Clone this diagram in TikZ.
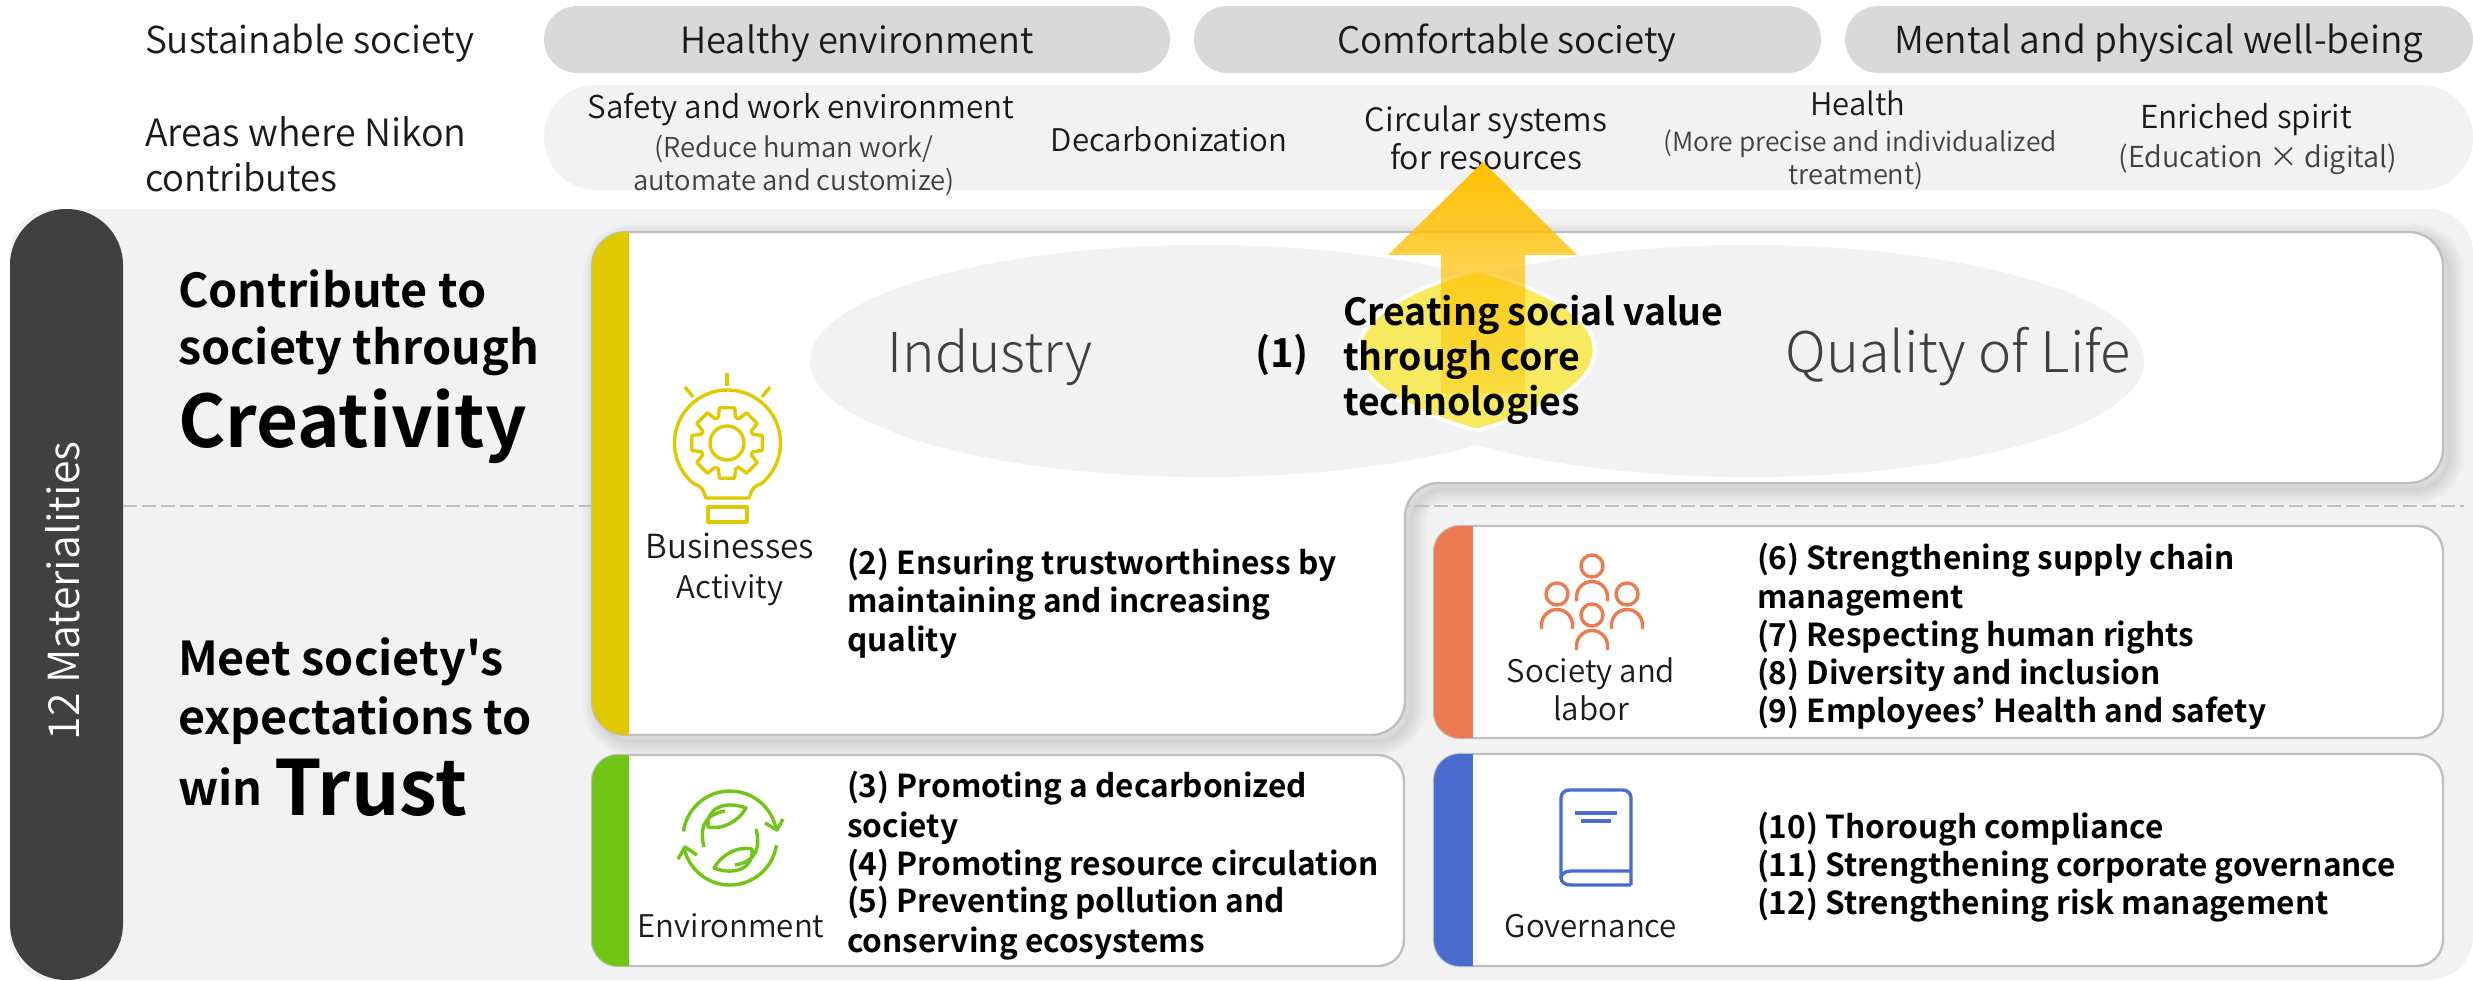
\documentclass[tikz,border=0pt]{standalone}
\usepackage{fontspec}
\setmainfont{Noto Sans CJK JP DemiLight}[BoldFont=Noto Sans CJK JP Bold,Ligatures=TeXOff]
\newfontfamily\lightf{Noto Sans CJK JP Light}
\usetikzlibrary{fadings}
\definecolor{pilldark}{HTML}{D9D9D9}
\definecolor{pilllight}{HTML}{F2F2F2}
\definecolor{darkpill}{HTML}{404040}
\definecolor{ink}{HTML}{1A1A1A}
\definecolor{subink}{HTML}{404040}
\definecolor{cardline}{HTML}{BFBFBF}
\definecolor{barY}{HTML}{E1C900}
\definecolor{barG}{HTML}{71C515}
\definecolor{barO}{HTML}{EC7B51}
\definecolor{barB}{HTML}{4A6BD0}
\newcommand\fs[1]{\fontsize{#1}{#1}\selectfont}
\tikzfading[name=arrowfade, top color=transparent!0, bottom color=transparent!65]
\newcommand\mainCard{(592,400) -- (592,232) -- (2443,232) -- (2443,483) -- (1405,483) -- (1405,735) -- (592,735) -- cycle}
\newcommand\card[6]{%
  \draw[draw=cardline,fill=white,line width=1.2pt,rounded corners=13pt] (#1,#2) rectangle (#3,#4);
  \begin{scope}
    \clip[rounded corners=13pt] (#1,#2) rectangle (#3,#4);
    \fill[#6] (#1-2,#2-2) rectangle (#5,#4+2);
  \end{scope}}
\newcommand\lensPath{(1477,272) arc[start angle=-45,end angle=45,x radius=395,y radius=110.5] arc[start angle=135,end angle=225,x radius=395,y radius=110.5] -- cycle}
\tikzset{
  txt/.style={inner sep=0pt,outer sep=0pt,text=ink,font=\fs{18.3}},
  lft/.style={txt,anchor=base west},
  mid/.style={txt,anchor=base},
  item/.style={lft,text=black,font=\bfseries\fs{15.8}},
  sub/.style={mid,text=subink,font=\fs{13.7}},
  area/.style={mid,font=\fs{15.7}},
  head/.style={lft,text=black,font=\bfseries\fs{23.35}},
  unit/.style={mid,font=\fs{15.6}},
  icon/.style={line width=1.7pt,line cap=butt,line join=round},
}
\begin{document}
\begin{tikzpicture}[x=0.5pt,y=-0.5pt]
\useasboundingbox (0,0) rectangle (2473,980);
% background
\fill[pilllight,rounded corners=22pt] (10,209) rectangle (2473,980);
\fill[darkpill,rounded corners=28pt] (10,209) rectangle (123,980);
% header pills
\fill[pilldark,rounded corners=16.7pt] (544,6) rectangle (1170,73);
\fill[pilldark,rounded corners=16.7pt] (1194,6) rectangle (1821,73);
\fill[pilldark,rounded corners=16.7pt] (1845,6) rectangle (2473,73);
\fill[pilllight,rounded corners=26pt] (544,85) rectangle (2473,190);
\node[lft,font=\fs{18.5}] (t1) at (145,53) {Sustainable society};
\node[lft,font=\fs{18.8}] (t2) at (145,146) {Areas where Nikon};
\node[lft,font=\fs{18.2}] (t3) at (145,191) {contributes};
\node[mid,font=\fs{18.1}] (p1) at (857,53) {Healthy environment};
\node[mid,font=\fs{18.3}] (p2) at (1507,53) {Comfortable society};
\node[mid,font=\fs{18.6}] (p3) at (2159,53) {Mental and physical well-being};
\node[area] (a1) at (801,118) {Safety and work environment};
\node[sub] (a1b) at (794,157) {(Reduce human work/};
\node[sub] (a1c) at (794,190) {automate and customize)};
\node[area,font=\fs{15.6}] (a2) at (1169,151) {Decarbonization};
\node[area,font=\fs{16.1}] (a3) at (1486,131) {Circular systems};
\node[area,font=\fs{16.1}] (a3b) at (1486,169) {for resources};
\node[area,font=\fs{15.5}] (a4) at (1858,115) {Health};
\node[sub,font=\fs{13.2}] (a4b) at (1860,151) {(More precise and individualized};
\node[sub,font=\fs{13.6}] (a4c) at (1856,184) {treatment)};
\node[area,font=\fs{15.8}] (a5) at (2246,128) {Enriched spirit};
\node[sub,font=\fs{14.4}] (a5b) at (2258,167) {(Education × digital)};
% shadow of the main card
\foreach \w in {30,26,...,2}{
  \draw[black,opacity=0.015,line width=\w*0.5pt,line join=round,rounded corners=17pt,shift={(3pt,-3pt)}] \mainCard;
}
% dashed separator
\draw[cardline,line width=1pt,dash pattern=on 7pt off 2.5pt] (123,506) -- (2464,506);
% main card
\draw[draw=cardline,fill=white,line width=1.2pt,rounded corners=17pt] \mainCard;
\begin{scope}
  \clip[rounded corners=17pt] \mainCard;
  \fill[barY] (590,230) rectangle (629,737);
\end{scope}
% other cards
\card{592}{755}{1404}{966}{629}{barG}
\card{1434}{526}{2443}{738}{1473}{barO}
\card{1434}{754}{2443}{966}{1473}{barB}
% ellipses
\fill[pilllight] (1205,361) circle [x radius=395,y radius=116];
\fill[pilllight] (1749,361) circle [x radius=395,y radius=116];
% lens
\filldraw[draw=white,line width=4pt,fill=white] \lensPath;
\fill[fill={rgb,255:red,248;green,234;blue,96}] \lensPath;
% arrow
\fill[fill={rgb,255:red,255;green,192;blue,0},path fading=arrowfade] (1483,162) -- (1577,255) -- (1525,255) -- (1525,393) -- (1441,393) -- (1441,255) -- (1388,255) -- cycle;
% materialities
\node[txt,text=white,rotate=90,font=\fs{21.4}] (m) at (63,591) {12 Materialities};
% headings
\node[head] (h1) at (178,307) {Contribute to};
\node[head] (h2) at (178,364) {society through};
\node[lft,text=black,font=\bfseries\fs{36.2}] (h3) at (178,447) {Creativity};
\node[head] (h4) at (178,675) {Meet society's};
\node[head] (h5) at (178,734) {expectations to};
\node[lft,text=black,font=\bfseries\fs{23.35}] (h6) at (178,805) {win};
\node[lft,text=black,font=\bfseries\fs{38.1}] (h7) at (274,815) {Trust};
% labels in ellipses
\node[mid,font=\lightf\fs{27.5},text=subink] (ind) at (990,372) {Industry};
\node[mid,font=\lightf\fs{28},text=subink] (qol) at (1958,372) {Quality of Life};
\node[mid,text=black,font=\bfseries\fs{20}] (n1) at (1282,367) {(1)};
\node[lft,text=black,font=\bfseries\fs{18.7}] (c1) at (1343,325) {Creating social value};
\node[lft,text=black,font=\bfseries\fs{18.7}] (c2) at (1343,370) {through core};
\node[lft,text=black,font=\bfseries\fs{18.7}] (c3) at (1343,415) {technologies};
% items
\node[item] (i2a) at (847,574) {(2) Ensuring trustworthiness by};
\node[item] (i2b) at (847,612) {maintaining and increasing};
\node[item] (i2c) at (847,651) {quality};
\node[item] (i3a) at (847,797) {(3) Promoting a decarbonized};
\node[item] (i3b) at (847,837) {society};
\node[item] (i4) at (847,875) {(4) Promoting resource circulation};
\node[item] (i5a) at (847,912) {(5) Preventing pollution and};
\node[item] (i5b) at (847,952) {conserving ecosystems};
\node[item] (i6a) at (1757,569) {(6) Strengthening supply chain};
\node[item] (i6b) at (1757,608) {management};
\node[item] (i7) at (1757,646) {(7) Respecting human rights};
\node[item] (i8) at (1757,684) {(8) Diversity and inclusion};
\node[item] (i9) at (1757,722) {(9) Employees’ Health and safety};
\node[item] (i10) at (1757,838) {(10) Thorough compliance};
\node[item] (i11) at (1757,876) {(11) Strengthening corporate governance};
\node[item] (i12) at (1757,914) {(12) Strengthening risk management};
% unit labels
\node[unit,font=\fs{16.6}] (u1) at (730,558) {Businesses};
\node[unit] (u1b) at (730,598) {Activity};
\node[unit] (u2) at (731,937) {Environment};
\node[unit] (u3) at (1591,682) {Society and};
\node[unit] (u3b) at (1591,720) {labor};
\node[unit] (u4) at (1591,937) {Governance};
% bulb icon
\begin{scope}[icon]
  \draw[barY] ({727.5+53*cos(130)},{443+53*sin(130)}) arc[start angle=130,end angle=410,radius=53] .. controls (753,487) .. (749,498) -- (706,498) .. controls (702,487) .. ({727.5+53*cos(130)},{443+53*sin(130)});
  \draw[barY] (708,507) rectangle (747,522);
  \draw[barY] (727,373) -- (727,386);
  \draw[barY] (685,387) -- (693,397);
  \draw[barY] (770,387) -- (762,397);
  \draw[barY] (727,443) circle [radius=17];
  \draw[barY] ({727+27*cos(-19)},{443+27*sin(-19)})
    \foreach \a in {0,45,...,315}{ -- ({727+27*cos(\a-19)},{443+27*sin(\a-19)}) -- ({727+36*cos(\a-12)},{443+36*sin(\a-12)}) -- ({727+36*cos(\a+12)},{443+36*sin(\a+12)}) -- ({727+27*cos(\a+19)},{443+27*sin(\a+19)})} -- cycle;
\end{scope}
% recycle icon
\begin{scope}[icon]
  \draw[barG] (730,838) ++(-172:47) arc[start angle=-172,end angle=-10,radius=47];
  \draw[barG] (765,823) -- (777,830) -- (783,819);
  \draw[barG] (730,838) ++(9:47) arc[start angle=9,end angle=169,radius=47];
  \draw[barG] (678,859) -- (685,847) -- (697,855);
  \draw[barG] (708,827) .. controls (706,808) and (725,800) .. (746,808) .. controls (738,822) and (722,830) .. (708,827) -- cycle;
  \draw[barG] (704,847) .. controls (700,830) and (702,815) .. (725,811);
  \begin{scope}[rotate around={180:(730,838)}]
    \draw[barG] (708,827) .. controls (706,808) and (725,800) .. (746,808) .. controls (738,822) and (722,830) .. (708,827) -- cycle;
    \draw[barG] (704,847) .. controls (700,830) and (702,815) .. (725,811);
  \end{scope}
\end{scope}
% people icon
\begin{scope}[icon]
  \foreach \cx/\cy in {1592/566,1557/594,1627/594,1592/615}{
    \draw[barO] (\cx,\cy) circle [radius=11];
    \draw[barO] (\cx-15.5,\cy+35) -- (\cx-15.5,\cy+31) arc[start angle=180,end angle=360,radius=15.5] -- (\cx+15.5,\cy+35);
  }
\end{scope}
% book icon
\begin{scope}[icon]
  \draw[barB,rounded corners=4pt] (1631,885) -- (1631,790) -- (1561,790) -- (1561,878);
  \draw[barB] (1631,871) -- (1571,871) .. controls (1565,871) and (1561,874) .. (1561,878) .. controls (1561,882) and (1565,885) .. (1571,885) -- (1631,885);
  \draw[barB] (1575,813) -- (1617,813);
  \draw[barB] (1581,821) -- (1611,821);
\end{scope}
\end{tikzpicture}
\end{document}
